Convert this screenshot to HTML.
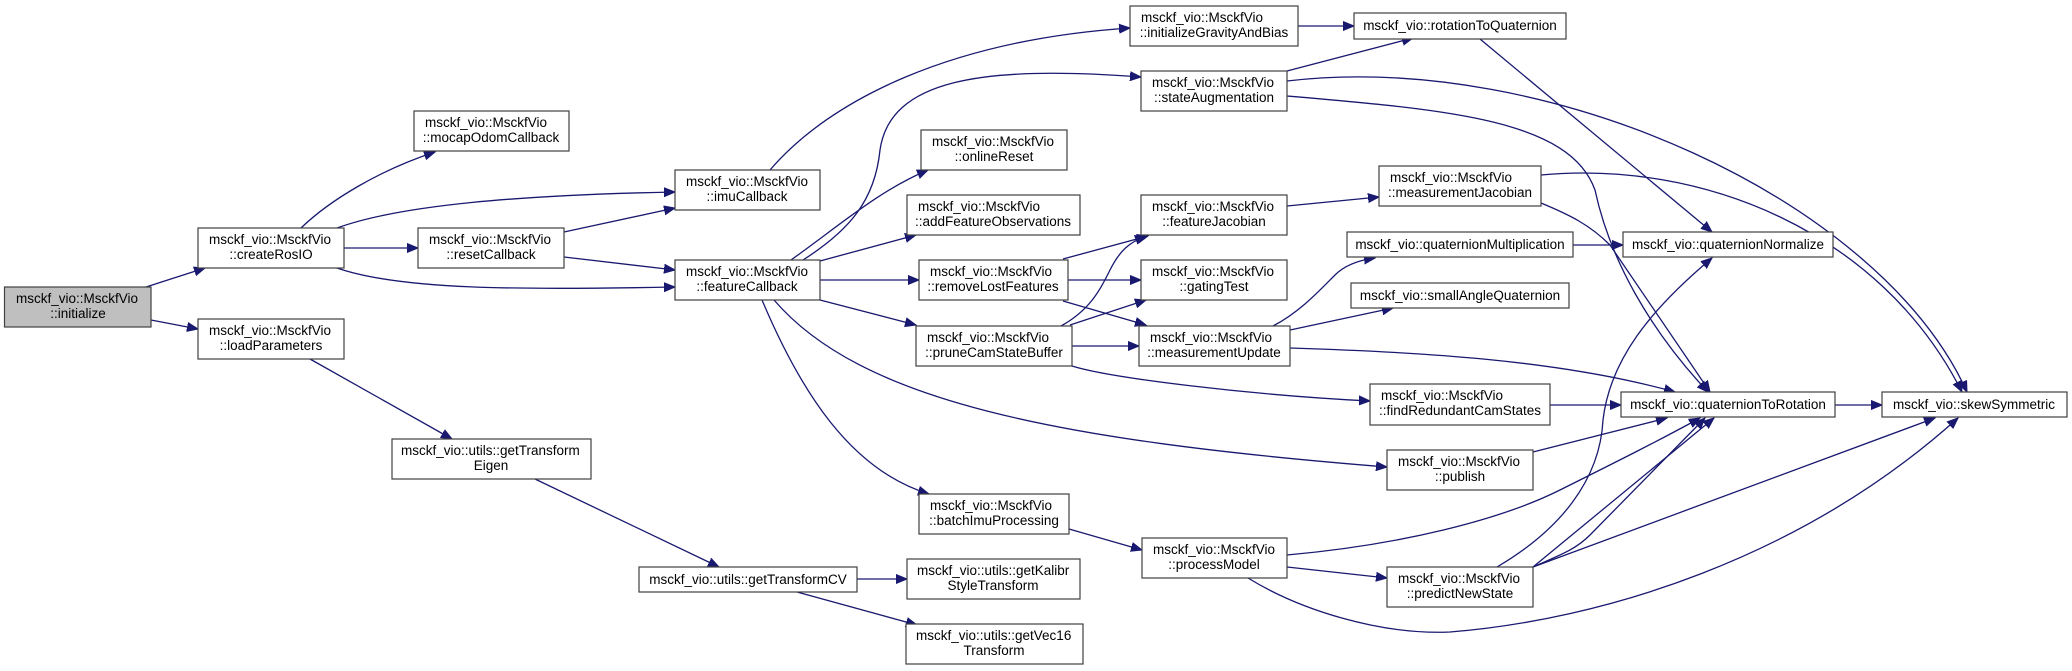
<!DOCTYPE html>
<html><head><meta charset="utf-8"><style>
html,body{margin:0;padding:0;background:#fff;}
svg{display:block;}
text{font-family:"Liberation Sans",Arial,sans-serif;font-size:13.5px;fill:#000;}
.b{fill:#fff;stroke:#404040;stroke-width:1.2;}
.e{fill:none;stroke:#191970;stroke-width:1.3;}
</style></head><body>
<svg width="2072" height="671" viewBox="0 0 2072 671" xmlns="http://www.w3.org/2000/svg">
<defs>
<marker id="a" markerUnits="userSpaceOnUse" markerWidth="12" markerHeight="10" refX="11" refY="5" orient="auto">
<path d="M0,0.5 L11,5 L0,9.5 Z" fill="#191970" stroke="#191970"/>
</marker>
</defs>
<g marker-end="url(#a)" class="e">
<path class="e" d="M146,287 L205,268"/>
<path class="e" d="M151,320 L198,329"/>
<path class="e" d="M301,228 C330,200 380,170 435,152"/>
<path class="e" d="M337,228 C400,205 520,195 675,192"/>
<path class="e" d="M344,248 L418,248"/>
<path class="e" d="M337,268 C400,290 520,290 675,287"/>
<path class="e" d="M564,232 L675,208"/>
<path class="e" d="M564,257 L675,270"/>
<path class="e" d="M310,359 L452,439"/>
<path class="e" d="M535,479 L719,567"/>
<path class="e" d="M857,579 L907,579"/>
<path class="e" d="M797,592 L917,625"/>
<path class="e" d="M770,170 C830,100 950,40 1130,28"/>
<path class="e" d="M803,260 C850,230 875,200 880,150 C890,80 980,65 1141,77"/>
<path class="e" d="M791,260 C840,225 880,190 928,170"/>
<path class="e" d="M820,261 L916,235"/>
<path class="e" d="M820,280 L919,280"/>
<path class="e" d="M820,300 L916,325"/>
<path class="e" d="M762,300 C800,390 850,470 929,494"/>
<path class="e" d="M774,300 C860,400 1050,440 1387,467"/>
<path class="e" d="M1063,259 L1148,236"/>
<path class="e" d="M1068,280 L1141,280"/>
<path class="e" d="M1063,301 L1146,325"/>
<path class="e" d="M1061,326 C1090,310 1100,290 1110,270 C1120,250 1130,242 1146,236"/>
<path class="e" d="M1070,325 L1146,300"/>
<path class="e" d="M1072,346 L1139,346"/>
<path class="e" d="M1072,366 C1110,378 1250,395 1370,401"/>
<path class="e" d="M1069,529 L1142,550"/>
<path class="e" d="M1287,71 L1413,38"/>
<path class="e" d="M1287,81 C1550,50 1880,200 1967,392"/>
<path class="e" d="M1541,175 C1700,160 1880,230 1962,392"/>
<path class="e" d="M1287,96 C1450,110 1570,120 1595,190 C1610,260 1650,330 1708,392"/>
<path class="e" d="M1480,39 L1712,232"/>
<path class="e" d="M1541,203 C1570,215 1590,225 1610,245 L1710,392"/>
<path class="e" d="M1573,245 L1623,245"/>
<path class="e" d="M1273,326 C1300,312 1320,290 1335,275 C1345,265 1360,260 1375,258"/>
<path class="e" d="M1290,330 L1393,308"/>
<path class="e" d="M1290,348 C1420,352 1560,360 1675,392"/>
<path class="e" d="M1550,405 L1621,405"/>
<path class="e" d="M1533,452 L1667,418"/>
<path class="e" d="M1287,555 C1400,545 1500,520 1560,490 C1620,460 1660,440 1700,418"/>
<path class="e" d="M1287,567 L1387,578"/>
<path class="e" d="M1248,578 C1300,610 1380,635 1450,632 C1600,620 1800,560 1958,418"/>
<path class="e" d="M1533,567 L1935,418"/>
<path class="e" d="M1497,567 C1560,530 1600,480 1603,420 C1610,360 1650,310 1712,258"/>
<path class="e" d="M1533,567 C1560,555 1575,550 1590,535 L1705,418"/>
<path class="e" d="M1533,567 L1714,418"/>
<path class="e" d="M1835,405 L1882,405"/>
<path class="e" d="M1298,26 L1354,26"/>
<path class="e" d="M1287,206 L1379,197"/>
</g>

<!-- nodes -->
<rect x="4.5" y="287" width="146.5" height="40" fill="#bfbfbf" stroke="#404040" stroke-width="1.2"/>
<text x="16" y="303">msckf_vio::MsckfVio</text><text x="78" y="318" text-anchor="middle">::initialize</text>

<rect class="b" x="198" y="228" width="146" height="40"/>
<text x="209" y="244">msckf_vio::MsckfVio</text><text x="271" y="259" text-anchor="middle">::createRosIO</text>

<rect class="b" x="198" y="319" width="146" height="40"/>
<text x="209" y="335">msckf_vio::MsckfVio</text><text x="271" y="350" text-anchor="middle">::loadParameters</text>

<rect class="b" x="414" y="111" width="155" height="40"/>
<text x="425" y="127">msckf_vio::MsckfVio</text><text x="491" y="142" text-anchor="middle">::mocapOdomCallback</text>

<rect class="b" x="418" y="228" width="146" height="40"/>
<text x="429" y="244">msckf_vio::MsckfVio</text><text x="491" y="259" text-anchor="middle">::resetCallback</text>

<rect class="b" x="675" y="170" width="145" height="40"/>
<text x="686" y="186">msckf_vio::MsckfVio</text><text x="747" y="201" text-anchor="middle">::imuCallback</text>

<rect class="b" x="675" y="260" width="145" height="40"/>
<text x="686" y="276">msckf_vio::MsckfVio</text><text x="747" y="291" text-anchor="middle">::featureCallback</text>

<rect class="b" x="392" y="439" width="199" height="40"/>
<text x="401" y="455">msckf_vio::utils::getTransform</text><text x="491" y="470" text-anchor="middle">Eigen</text>

<rect class="b" x="639" y="567" width="218" height="25"/>
<text x="748" y="584" text-anchor="middle">msckf_vio::utils::getTransformCV</text>

<rect class="b" x="907" y="559" width="173" height="40"/>
<text x="917" y="575">msckf_vio::utils::getKalibr</text><text x="993" y="590" text-anchor="middle">StyleTransform</text>

<rect class="b" x="906" y="624" width="177" height="40"/>
<text x="916" y="640">msckf_vio::utils::getVec16</text><text x="994" y="655" text-anchor="middle">Transform</text>

<rect class="b" x="1130" y="6" width="168" height="40"/>
<text x="1141" y="22">msckf_vio::MsckfVio</text><text x="1214" y="37" text-anchor="middle">::initializeGravityAndBias</text>

<rect class="b" x="1141" y="71" width="146" height="40"/>
<text x="1152" y="87">msckf_vio::MsckfVio</text><text x="1214" y="102" text-anchor="middle">::stateAugmentation</text>

<rect class="b" x="921" y="130" width="146" height="40"/>
<text x="932" y="146">msckf_vio::MsckfVio</text><text x="994" y="161" text-anchor="middle">::onlineReset</text>

<rect class="b" x="907" y="195" width="173" height="40"/>
<text x="918" y="211">msckf_vio::MsckfVio</text><text x="993" y="226" text-anchor="middle">::addFeatureObservations</text>

<rect class="b" x="919" y="260" width="149" height="40"/>
<text x="930" y="276">msckf_vio::MsckfVio</text><text x="993" y="291" text-anchor="middle">::removeLostFeatures</text>

<rect class="b" x="916" y="326" width="156" height="40"/>
<text x="927" y="342">msckf_vio::MsckfVio</text><text x="994" y="357" text-anchor="middle">::pruneCamStateBuffer</text>

<rect class="b" x="919" y="494" width="150" height="40"/>
<text x="930" y="510">msckf_vio::MsckfVio</text><text x="994" y="525" text-anchor="middle">::batchImuProcessing</text>

<rect class="b" x="1141" y="195" width="146" height="40"/>
<text x="1152" y="211">msckf_vio::MsckfVio</text><text x="1214" y="226" text-anchor="middle">::featureJacobian</text>

<rect class="b" x="1141" y="260" width="146" height="40"/>
<text x="1152" y="276">msckf_vio::MsckfVio</text><text x="1214" y="291" text-anchor="middle">::gatingTest</text>

<rect class="b" x="1139" y="326" width="151" height="40"/>
<text x="1150" y="342">msckf_vio::MsckfVio</text><text x="1214" y="357" text-anchor="middle">::measurementUpdate</text>

<rect class="b" x="1142" y="538" width="145" height="40"/>
<text x="1153" y="554">msckf_vio::MsckfVio</text><text x="1214" y="569" text-anchor="middle">::processModel</text>

<rect class="b" x="1354" y="13" width="212" height="26"/>
<text x="1460" y="30" text-anchor="middle">msckf_vio::rotationToQuaternion</text>

<rect class="b" x="1379" y="166" width="162" height="40"/>
<text x="1390" y="182">msckf_vio::MsckfVio</text><text x="1460" y="197" text-anchor="middle">::measurementJacobian</text>

<rect class="b" x="1347" y="232" width="226" height="25"/>
<text x="1460" y="249" text-anchor="middle">msckf_vio::quaternionMultiplication</text>

<rect class="b" x="1351" y="283" width="218" height="25"/>
<text x="1460" y="300" text-anchor="middle">msckf_vio::smallAngleQuaternion</text>

<rect class="b" x="1370" y="384" width="180" height="41"/>
<text x="1381" y="400">msckf_vio::MsckfVio</text><text x="1460" y="415" text-anchor="middle">::findRedundantCamStates</text>

<rect class="b" x="1387" y="450" width="146" height="40"/>
<text x="1398" y="466">msckf_vio::MsckfVio</text><text x="1460" y="481" text-anchor="middle">::publish</text>

<rect class="b" x="1387" y="567" width="146" height="40"/>
<text x="1398" y="583">msckf_vio::MsckfVio</text><text x="1460" y="598" text-anchor="middle">::predictNewState</text>

<rect class="b" x="1623" y="232" width="210" height="25"/>
<text x="1728" y="249" text-anchor="middle">msckf_vio::quaternionNormalize</text>

<rect class="b" x="1621" y="392" width="214" height="25"/>
<text x="1728" y="409" text-anchor="middle">msckf_vio::quaternionToRotation</text>

<rect class="b" x="1882" y="392" width="185" height="25"/>
<text x="1974" y="409" text-anchor="middle">msckf_vio::skewSymmetric</text>
</svg>
</body></html>
